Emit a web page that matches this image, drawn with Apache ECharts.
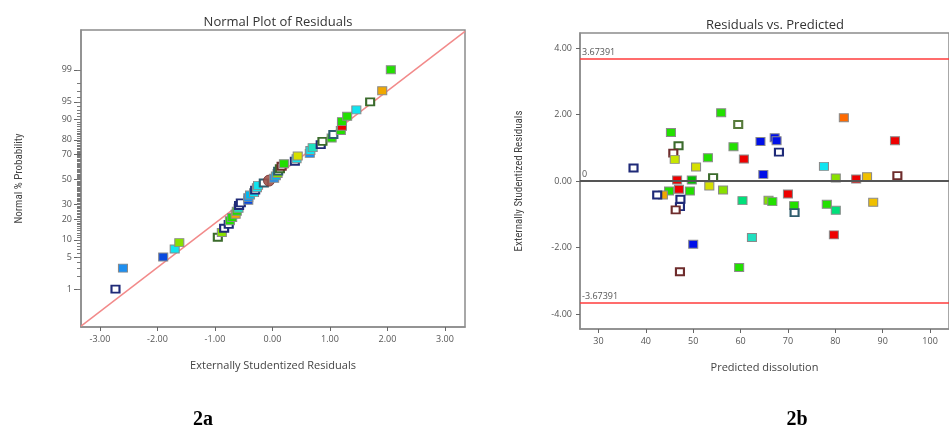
<!DOCTYPE html>
<html>
<head>
<meta charset="utf-8">
<title>Residual diagnostics</title>
<script src="https://cdn.jsdelivr.net/npm/echarts@6/dist/echarts.min.js"></script>
<style>
  html, body { margin: 0; padding: 0; background: #fff; }
  #chart { width: 949px; height: 426px; }
</style>
</head>
<body>
<div id="chart"></div>
<script>
// --- 2a: normal plot (sorted residuals vs. normal % probability) ---
const normalResiduals = [-2.73, -2.60, -1.90, -1.70, -1.62, -0.95, -0.88, -0.84, -0.76, -0.74,
    -0.70, -0.64, -0.62, -0.59, -0.58, -0.55, -0.42, -0.42, -0.39, -0.32,
    -0.30, -0.27, -0.25, -0.15, -0.06, 0.03, 0.06, 0.09, 0.10, 0.13,
    0.16, 0.20, 0.39, 0.42, 0.44, 0.65, 0.66, 0.70, 0.84, 0.87,
    1.03, 1.06, 1.19, 1.21, 1.21, 1.30, 1.46, 1.70, 1.91, 2.06];
const normalProbability = [1, 3, 5, 7, 9, 11, 13, 15, 17, 19,
    21, 23, 25, 27, 29, 31, 33, 35, 37, 39,
    41, 43, 45, 47, 49, 51, 53, 55, 57, 59,
    61, 63, 65, 67, 69, 71, 73, 75, 77, 79,
    81, 83, 85, 87, 89, 91, 93, 95, 97, 99];
const normalColors = ['navy', 'dodger', 'blue2', 'cyan', 'lime', 'dkgreen', 'lime', 'navy', 'navy', 'green',
    'green', 'amber', 'green', 'aqua', 'navy', 'navy', 'blue2', 'dodger', 'sky', 'cyan',
    'navy', 'cyan', 'cyan', 'teal', 'circle', 'dodger', 'sky', 'lime', 'teal', 'dkgreen',
    'brown', 'green', 'navy', 'cyan', 'yellow', 'dodger', 'cyan', 'aqua', 'navy', 'dkgreen',
    'green', 'teal', 'green', 'red', 'green', 'green', 'cyan', 'dkgreen', 'amber', 'green'];
const probTicks = [1, 5, 10, 20, 30, 50, 70, 80, 90, 95, 99];
const refLineX = [-3.33, 3.35];
const refLineZ = [-3.11, 3.14];
const residualTicks = [-3, -2, -1, 0, 1, 2, 3];

// --- 2b: residuals vs predicted ---
const predicted = [45.3, 46.9, 45.8, 46.1, 37.4, 53.1, 50.6, 46.6, 49.7, 54.2,
    53.4, 44.9, 47.0, 49.3, 43.6, 42.4, 47.3, 47.2, 46.3, 50.0,
    47.2, 55.9, 59.5, 64.2, 67.2, 67.6, 68.1, 58.5, 60.7, 64.8,
    56.3, 60.4, 65.9, 66.7, 70.0, 71.3, 71.4, 62.4, 59.7, 77.6,
    81.8, 92.6, 80.1, 84.4, 86.7, 93.1, 78.2, 80.1, 88.0, 79.7];
const studentized = [1.46, 1.06, 0.84, 0.65, 0.39, 0.70, 0.42, 0.03, 0.03, 0.10,
    -0.15, -0.30, -0.25, -0.30, -0.42, -0.42, -0.55, -0.77, -0.87, -1.90,
    -2.73, 2.05, 1.70, 1.19, 1.30, 1.21, 0.87, 1.03, 0.66, 0.20,
    -0.27, -0.59, -0.58, -0.62, -0.39, -0.74, -0.95, -1.70, -2.60, 0.44,
    1.90, 1.21, 0.09, 0.06, 0.13, 0.16, -0.70, -0.88, -0.64, -1.62];
const predictedColors = ['green', 'dkgreen', 'brown', 'yelgreen', 'navy', 'green', 'yellow', 'red', 'green2', 'dkgreen',
    'yellow', 'green', 'red', 'green', 'amber', 'navy', 'navy', 'navy', 'brown', 'blue',
    'brown', 'green', 'olive', 'blue', 'blue', 'blue', 'navy', 'green', 'red', 'blue',
    'lime', 'mint', 'lime', 'green', 'red', 'green', 'teal', 'aqua', 'green', 'cyan',
    'orange', 'red', 'lime', 'red', 'gold', 'brown', 'green', 'mint', 'gold', 'red'];
const predictedTicks = [30, 40, 50, 60, 70, 80, 90, 100];
const studentTicks = [-4, -2, 0, 2, 4];
const outlierLimit = 3.67391;

// Colores de marcadores (huecos = borde oscuro, relleno blanco)
const palette = {
    navy: { open: true, c: '#1f2a78' },
    dkgreen: { open: true, c: '#3b6b2c' },
    brown: { open: true, c: '#6e2c2c' },
    teal: { open: true, c: '#2f5d6e' },
    olive: { open: true, c: '#567a3a' },
    circle: { c: '#a0524a', circle: true },
    green: { c: '#22e000' },
    green2: { c: '#00c000' },
    lime: { c: '#88e000' },
    yelgreen: { c: '#c8e600' },
    yellow: { c: '#d6e000' },
    amber: { c: '#f0a800' },
    gold: { c: '#f0c000' },
    orange: { c: '#ff6a00' },
    red: { c: '#ee0000' },
    blue: { c: '#0010e8' },
    blue2: { c: '#0a4ae0' },
    dodger: { c: '#1e8ff0' },
    sky: { c: '#00b8f0' },
    cyan: { c: '#10e4f0' },
    aqua: { c: '#20e0c0' },
    mint: { c: '#00e07a' }
};

// Inversa de la normal (Acklam) para el eje de probabilidad
function probit(p) {
    const a = [-3.969683028665376e+01, 2.209460984245205e+02, -2.759285104469687e+02, 1.383577518672690e+02, -3.066479806614716e+01, 2.506628277459239e+00];
    const b = [-5.447609879822406e+01, 1.615858368580409e+02, -1.556989798598866e+02, 6.680131188771972e+01, -1.328068155288572e+01];
    const c = [-7.784894002430293e-03, -3.223964580411365e-01, -2.400758277161838e+00, -2.549732539343734e+00, 4.374664141464968e+00, 2.938163982698783e+00];
    const d = [7.784695709041462e-03, 3.224671290700398e-01, 2.445134137142996e+00, 3.754408661907416e+00];
    const pl = 0.02425;
    let q, r;
    if (p < pl) {
        q = Math.sqrt(-2 * Math.log(p));
        return (((((c[0] * q + c[1]) * q + c[2]) * q + c[3]) * q + c[4]) * q + c[5]) / ((((d[0] * q + d[1]) * q + d[2]) * q + d[3]) * q + 1);
    }
    if (p > 1 - pl) {
        q = Math.sqrt(-2 * Math.log(1 - p));
        return -(((((c[0] * q + c[1]) * q + c[2]) * q + c[3]) * q + c[4]) * q + c[5]) / ((((d[0] * q + d[1]) * q + d[2]) * q + d[3]) * q + 1);
    }
    q = p - 0.5;
    r = q * q;
    return (((((a[0] * r + a[1]) * r + a[2]) * r + a[3]) * r + a[4]) * r + a[5]) * q / (((((b[0] * r + b[1]) * r + b[2]) * r + b[3]) * r + b[4]) * r + 1);
}

function markerItem(x, y, key) {
    const s = palette[key];
    if (s.open) {
        return { value: [x, y], symbolSize: [8, 7], itemStyle: { color: '#ffffff', borderColor: s.c, borderWidth: 2, opacity: 1 } };
    }
    if (s.circle) {
        return { value: [x, y], symbol: 'circle', symbolSize: 11, itemStyle: { color: s.c, borderColor: '#7a3a36', borderWidth: 1, opacity: 0.9 } };
    }
    return { value: [x, y], symbolSize: [9, 8], itemStyle: { color: s.c, borderColor: '#8a8a8a', borderWidth: 1, opacity: 1 } };
}

const LEFT_MIN = -3.33;
const minorProb = [];
for (let p = 1; p <= 99; p++) minorProb.push([LEFT_MIN, probit(p / 100)]);

const FONT = '"Open Sans", "Noto Sans", sans-serif';
const NARROW = '"Liberation Sans Narrow", "Roboto Condensed", "Open Sans", sans-serif';
const axisGrey = '#8c8c8c';
const labelStyle = { color: '#555', fontSize: 9, fontFamily: FONT };

const chart = echarts.init(document.getElementById('chart'));

const option = {
    backgroundColor: '#fff',
    animation: false,
    title: [
        { text: 'Normal Plot of Residuals', left: 273, top: 11, textAlign: 'center',
          textStyle: { fontSize: 13, fontWeight: 'normal', color: '#333', fontFamily: FONT } },
        { text: 'Residuals vs. Predicted', left: 770, top: 14, textAlign: 'center',
          textStyle: { fontSize: 13, fontWeight: 'normal', color: '#333', fontFamily: FONT } },
        { text: '2a', left: 198, top: 405, textAlign: 'center',
          textStyle: { fontSize: 20, fontWeight: 'bold', color: '#000', fontFamily: '"Liberation Serif", serif' } },
        { text: '2b', left: 792, top: 405, textAlign: 'center',
          textStyle: { fontSize: 20, fontWeight: 'bold', color: '#000', fontFamily: '"Liberation Serif", serif' } }
    ],
    grid: [
        { left: 81, top: 30, width: 384, height: 297, show: true, borderColor: axisGrey, borderWidth: 1.5, backgroundColor: 'transparent' },
        { left: 580, top: 33, width: 381, height: 296, show: true, borderColor: axisGrey, borderWidth: 1.5, backgroundColor: 'transparent' }
    ],
    xAxis: [
        {
            gridIndex: 0, type: 'value', min: LEFT_MIN, max: 3.35,
            name: 'Externally Studentized Residuals', nameLocation: 'middle', nameGap: 33,
            nameTextStyle: { fontSize: 11, color: '#444', fontFamily: FONT },
            axisLine: { onZero: false, lineStyle: { color: axisGrey, width: 1.5 } },
            axisTick: { show: true, customValues: residualTicks, length: 4, lineStyle: { color: '#666' } },
            axisLabel: Object.assign({ customValues: residualTicks, margin: 8, formatter: v => v.toFixed(2) }, labelStyle),
            splitLine: { show: false }
        },
        {
            gridIndex: 1, type: 'value', min: 26.1, max: 104,
            name: 'Predicted dissolution', nameLocation: 'middle', nameGap: 33,
            nameTextStyle: { fontSize: 11, color: '#444', fontFamily: FONT },
            axisLine: { onZero: false, lineStyle: { color: axisGrey, width: 1.5 } },
            axisTick: { show: true, customValues: predictedTicks, length: 4, lineStyle: { color: '#666' } },
            axisLabel: Object.assign({ customValues: predictedTicks, margin: 8 }, labelStyle),
            splitLine: { show: false }
        }
    ],
    yAxis: [
        {
            gridIndex: 0, type: 'value', min: -3.13, max: 3.17,
            name: 'Normal % Probability', nameLocation: 'middle', nameGap: 56,
            nameTextStyle: { fontSize: 11, color: '#444', fontFamily: NARROW },
            axisLine: { onZero: false, lineStyle: { color: axisGrey, width: 1.5 } },
            axisTick: { show: true, customValues: probTicks.map(t => probit(t / 100)), length: 7, lineStyle: { color: '#666' } },
            axisLabel: Object.assign({
                customValues: probTicks.map(t => probit(t / 100)), margin: 9,
                formatter: function (v) {
                    let best = probTicks[0];
                    probTicks.forEach(t => {
                        if (Math.abs(probit(t / 100) - v) < Math.abs(probit(best / 100) - v)) best = t;
                    });
                    return String(best);
                }
            }, labelStyle),
            splitLine: { show: false }
        },
        {
            gridIndex: 1, type: 'value', min: -4.45, max: 4.45,
            name: 'Externally Studentized Residuals', nameLocation: 'middle', nameGap: 55,
            nameTextStyle: { fontSize: 11, color: '#444', fontFamily: NARROW },
            axisLine: { onZero: false, lineStyle: { color: axisGrey, width: 1.5 } },
            axisTick: { show: true, customValues: studentTicks, length: 4, lineStyle: { color: '#666' } },
            axisLabel: Object.assign({ customValues: studentTicks, margin: 8, formatter: v => v.toFixed(2) }, labelStyle),
            splitLine: { show: false }
        }
    ],
    series: [
        {
            // marcas menores del eje de probabilidad (cada 1 %)
            name: 'minorTicks', type: 'custom', xAxisIndex: 0, yAxisIndex: 0, z: 1, silent: true, clip: false,
            data: minorProb,
            renderItem: function (params, api) {
                const p = api.coord([api.value(0), api.value(1)]);
                return {
                    type: 'line',
                    shape: { x1: p[0] - 4, y1: Math.round(p[1]) + 0.5, x2: p[0], y2: Math.round(p[1]) + 0.5 },
                    style: { stroke: '#7a7a7a', lineWidth: 1 }
                };
            }
        },
        {
            name: 'reference', type: 'line', xAxisIndex: 0, yAxisIndex: 0, z: 1,
            data: refLineX.map((x, i) => [x, refLineZ[i]]),
            symbol: 'none', lineStyle: { color: '#f28a8a', width: 1.5 }, silent: true
        },
        {
            name: 'normal', type: 'scatter', xAxisIndex: 0, yAxisIndex: 0, z: 3, symbol: 'rect',
            data: normalResiduals.map((r, i) => markerItem(r, probit(normalProbability[i] / 100), normalColors[i]))
        },
        {
            name: 'limits', type: 'line', xAxisIndex: 1, yAxisIndex: 1, z: 2, data: [],
            markLine: {
                silent: true, symbol: 'none', animation: false,
                data: [
                    { yAxis: outlierLimit, lineStyle: { color: '#ff3b3b', width: 1.5, type: 'solid' } },
                    { yAxis: -outlierLimit, lineStyle: { color: '#ff3b3b', width: 1.5, type: 'solid' } },
                    { yAxis: 0, lineStyle: { color: '#555', width: 2, type: 'solid' } }
                ],
                label: {
                    show: true, position: 'insideStartTop', distance: [2, 2],
                    fontSize: 9, color: '#555', fontFamily: FONT,
                    formatter: p => (p.value === 0 ? '0' : (p.value > 0 ? '' : '-') + outlierLimit.toFixed(5))
                }
            }
        },
        {
            name: 'predicted', type: 'scatter', xAxisIndex: 1, yAxisIndex: 1, z: 3, symbol: 'rect',
            data: predicted.map((x, i) => markerItem(x, studentized[i], predictedColors[i]))
        }
    ]
};

chart.setOption(option);
</script>
</body>
</html>
